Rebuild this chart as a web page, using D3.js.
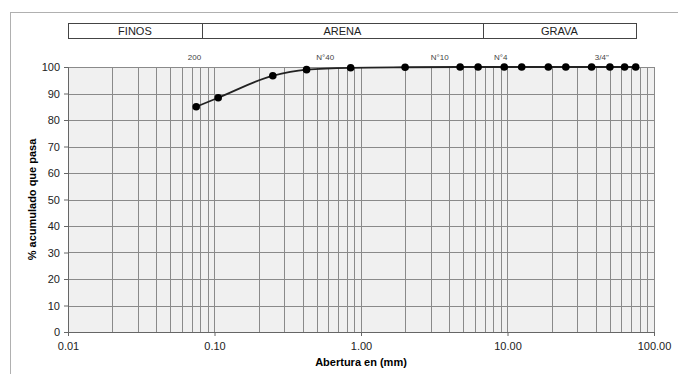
<!DOCTYPE html>
<html>
<head>
<meta charset="utf-8">
<script src="https://cdn.jsdelivr.net/npm/d3@7"></script>
<style>
  body { margin: 0; background: #fff; }
  svg { font-family: "Liberation Sans", Arial, sans-serif; }
</style>
</head>
<body>
<div id="chart"></div>
<script>
// sieve openings (mm) and % passing
const aberturas = [0.075, 0.106, 0.25, 0.425, 0.85, 2.0, 4.75, 6.3, 9.5, 12.5, 19, 25, 37.5, 50, 63, 75];
const pasa = [85.0, 88.4, 96.7, 99.0, 99.7, 99.9, 100, 100, 100, 100, 100, 100, 100, 100, 100, 100];

// sieve names above the plot (position in mm)
const tamices = ["200", "N°40", "N°10", "N°4", "3/4\""];
const tamicesPos = [0.073, 0.57, 3.45, 9.0, 44];

// soil classes band
const clases = ["FINOS", "ARENA", "GRAVA"];
const clasesLim = [0.01, 0.082, 6.8, 75];

const xTicks = [0.01, 0.1, 1, 10, 100];
const yTicks = [0, 10, 20, 30, 40, 50, 60, 70, 80, 90, 100];

const width = 678, height = 374;
const margin = { top: 67, right: 24, bottom: 42, left: 68 };

const svg = d3.select("#chart").append("svg")
  .attr("width", width)
  .attr("height", height);

// outer chart frame
svg.append("rect")
  .attr("x", 10.5).attr("y", 12.5)
  .attr("width", 700).attr("height", 400)
  .attr("fill", "none")
  .attr("stroke", "#b0b0b0");

const x = d3.scaleLog()
  .domain([0.01, 100])
  .range([margin.left, width - margin.right]);

const y = d3.scaleLinear()
  .domain([0, 100])
  .range([height - margin.bottom, margin.top]);

// plot area
svg.append("rect")
  .attr("x", x(0.01)).attr("y", y(100))
  .attr("width", x(100) - x(0.01)).attr("height", y(0) - y(100))
  .attr("fill", "#f0f0f0");

// vertical log grid
const gridX = x.ticks().filter(d => d > 0.01 && d <= 100);
svg.append("g").selectAll("line")
  .data(gridX)
  .enter().append("line")
  .attr("x1", d => Math.round(x(d)) + 0.5)
  .attr("x2", d => Math.round(x(d)) + 0.5)
  .attr("y1", y(0))
  .attr("y2", y(100))
  .attr("stroke", "#8a8a8a")
  .attr("stroke-width", 1);

// horizontal grid
svg.append("g").selectAll("line")
  .data(yTicks.filter(d => d > 0))
  .enter().append("line")
  .attr("x1", x(0.01))
  .attr("x2", x(100))
  .attr("y1", d => Math.round(y(d)) + 0.5)
  .attr("y2", d => Math.round(y(d)) + 0.5)
  .attr("stroke", "#8a8a8a")
  .attr("stroke-width", 1);

// axes
const yAxis = svg.append("g")
  .attr("transform", `translate(${x(0.01)},0)`)
  .call(d3.axisLeft(y).tickValues(yTicks).tickSize(4).tickPadding(4));
yAxis.select(".domain").attr("stroke", "#666");
yAxis.selectAll(".tick line").attr("stroke", "#666");
yAxis.selectAll("text").attr("font-size", 11).attr("fill", "#222");

const xAxis = svg.append("g")
  .attr("transform", `translate(0,${y(0)})`)
  .call(d3.axisBottom(x).tickValues(xTicks).tickFormat(d3.format(".2f")).tickSize(4).tickPadding(6));
xAxis.select(".domain").attr("stroke", "#666");
xAxis.selectAll(".tick line").attr("stroke", "#666");
xAxis.selectAll("text").attr("font-size", 11).attr("fill", "#222");

// axis titles
svg.append("text")
  .attr("x", x(1))
  .attr("y", 366)
  .attr("text-anchor", "middle")
  .attr("font-size", 11)
  .attr("font-weight", "bold")
  .text("Abertura en (mm)");

svg.append("text")
  .attr("transform", `translate(36,${(y(0) + y(100)) / 2}) rotate(-90)`)
  .attr("text-anchor", "middle")
  .attr("font-size", 11)
  .attr("font-weight", "bold")
  .text("% acumulado que pasa");

// soil class band
const band = svg.append("g");
clases.forEach((c, i) => {
  const x0 = x(clasesLim[i]), x1 = x(clasesLim[i + 1]);
  band.append("rect")
    .attr("x", Math.round(x0) + 0.5).attr("y", 23.5)
    .attr("width", Math.round(x1) - Math.round(x0)).attr("height", 15)
    .attr("fill", "#fff")
    .attr("stroke", "#444");
  band.append("text")
    .attr("x", (x0 + x1) / 2)
    .attr("y", 35)
    .attr("text-anchor", "middle")
    .attr("font-size", 11)
    .attr("fill", "#222")
    .text(c);
});

// sieve labels
svg.append("g").selectAll("text")
  .data(tamices)
  .enter().append("text")
  .attr("x", (d, i) => x(tamicesPos[i]))
  .attr("y", 60)
  .attr("text-anchor", "middle")
  .attr("font-size", 8)
  .attr("fill", "#444")
  .text(d => d);

// curve
const pts = aberturas.map((d, i) => [d, pasa[i]]);
svg.append("path")
  .datum(pts)
  .attr("fill", "none")
  .attr("stroke", "#222")
  .attr("stroke-width", 1.8)
  .attr("d", d3.line()
    .x(d => x(d[0]))
    .y(d => y(d[1]))
    .curve(d3.curveMonotoneX));

svg.append("g").selectAll("circle")
  .data(pts)
  .enter().append("circle")
  .attr("cx", d => x(d[0]))
  .attr("cy", d => y(d[1]))
  .attr("r", 3.8)
  .attr("fill", "#000");
</script>
</body>
</html>
